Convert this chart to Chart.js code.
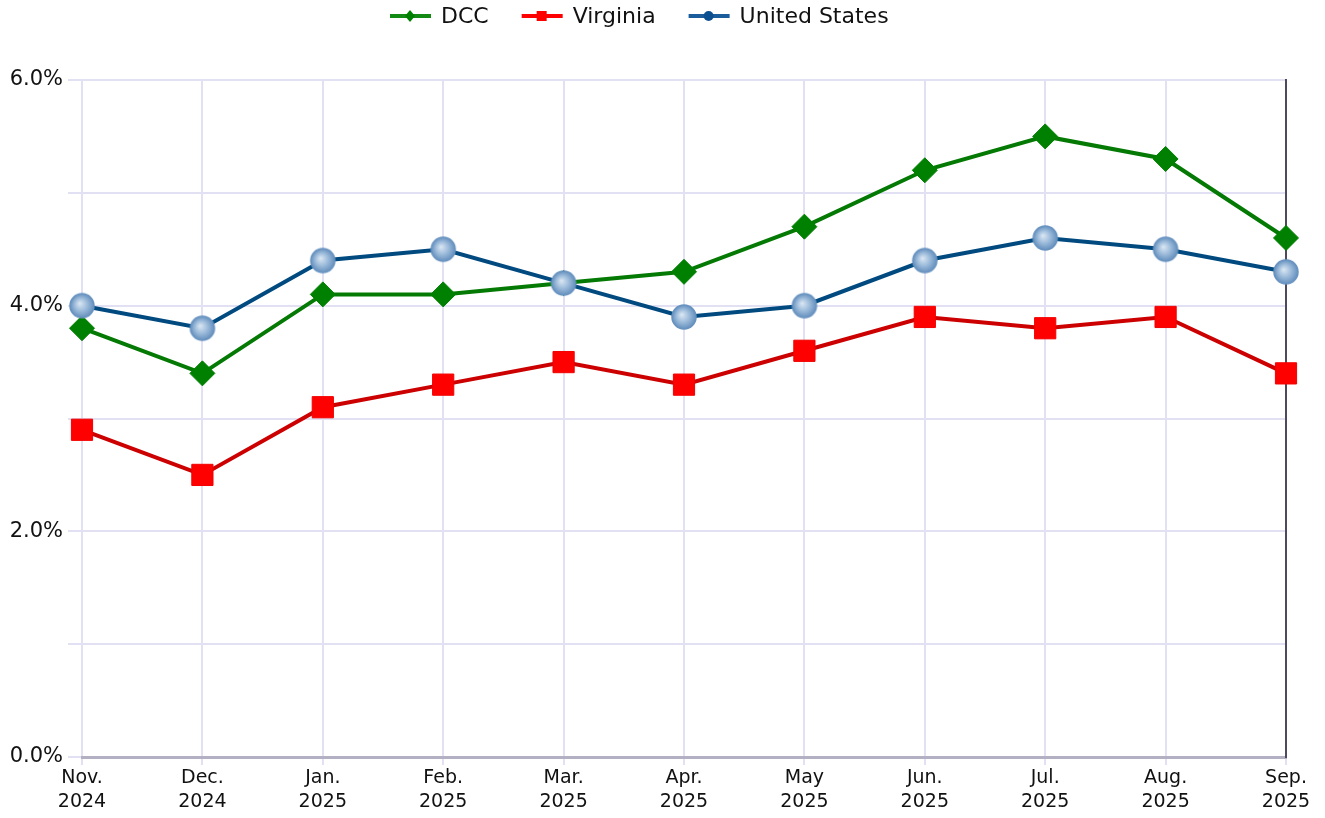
<!DOCTYPE html>
<html>
<head>
<meta charset="utf-8">
<script src="https://cdn.jsdelivr.net/npm/chart.js@4/dist/chart.umd.min.js"></script>
<style>
  html, body { margin: 0; padding: 0; background: #ffffff; }
  #wrap { width: 1325px; height: 818px; }
</style>
</head>
<body>
<div id="wrap"><canvas id="chart" width="1325" height="818"></canvas></div>
<script>
const categories = [
  ["Nov.", "2024"], ["Dec.", "2024"], ["Jan.", "2025"], ["Feb.", "2025"],
  ["Mar.", "2025"], ["Apr.", "2025"], ["May", "2025"], ["Jun.", "2025"],
  ["Jul.", "2025"], ["Aug.", "2025"], ["Sep.", "2025"]
];
const dccValues = [3.8, 3.4, 4.1, 4.1, 4.2, 4.3, 4.7, 5.2, 5.5, 5.3, 4.6];
const virginiaValues = [2.9, 2.5, 3.1, 3.3, 3.5, 3.3, 3.6, 3.9, 3.8, 3.9, 3.4];
const usValues = [4.0, 3.8, 4.4, 4.5, 4.2, 3.9, 4.0, 4.4, 4.6, 4.5, 4.3];
const yLabelTicks = [0, 2, 4, 6];

const font = "'DejaVu Sans', sans-serif";

// shaded sphere used for the United States points
function sphere(r) {
    const size = r * 2 + 4;
    const c = document.createElement("canvas");
    c.width = size;
    c.height = size;
    const ctx = c.getContext("2d");
    const cx = size / 2, cy = size / 2;
    const g = ctx.createRadialGradient(cx - r * 0.2, cy - r * 0.2, 0, cx, cy, r);
    g.addColorStop(0, "#dde8f4");
    g.addColorStop(0.5, "#a0bedc");
    g.addColorStop(1, "#6590be");
    ctx.beginPath();
    ctx.arc(cx, cy, r, 0, Math.PI * 2);
    ctx.fillStyle = g;
    ctx.fill();
    ctx.lineWidth = 1.5;
    ctx.strokeStyle = "#6893c0";
    ctx.stroke();
    return c;
}

// legend: short line with a small marker, then the dataset label
const legendStyles = [
    { line: "#138a13", marker: "#008000", shape: "diamond" },
    { line: "#ff0000", marker: "#ff0000", shape: "square" },
    { line: "#1a5c9c", marker: "#0b4f90", shape: "circle" },
];

const legendPlugin = {
    id: "topLegend",
    afterDraw(chart) {
        const ctx = chart.ctx;
        ctx.save();
        ctx.font = "22px " + font;
        ctx.textBaseline = "middle";
        const y = 16;
        let x = 390;
        chart.data.datasets.forEach((ds, i) => {
            const st = legendStyles[i];
            ctx.fillStyle = st.line;
            ctx.fillRect(x, y - 2, 41, 4);
            ctx.fillStyle = st.marker;
            const mx = x + 20;
            ctx.beginPath();
            if (st.shape === "diamond") {
                ctx.moveTo(mx, y - 6); ctx.lineTo(mx + 5, y); ctx.lineTo(mx, y + 6); ctx.lineTo(mx - 5, y);
            } else if (st.shape === "square") {
                ctx.rect(mx - 5, y - 5, 10, 10);
            } else {
                ctx.arc(mx, y, 5, 0, Math.PI * 2);
            }
            ctx.closePath();
            ctx.fill();
            ctx.fillStyle = "#111111";
            ctx.fillText(ds.label, x + 51, y + 1);
            x += 51 + ctx.measureText(ds.label).width + 33;
        });
        ctx.restore();
    },
};

const usPoint = sphere(12);

const context = document.getElementById("chart").getContext("2d");
new Chart(context, {
    type: "line",
    data: {
        labels: categories,
        datasets: [
            {
                label: "DCC",
                data: dccValues,
                borderColor: "#047a04",
                borderWidth: 4,
                pointStyle: "rectRot",
                pointRadius: 12.5,
                pointHoverRadius: 12.5,
                pointBackgroundColor: "#008000",
                pointBorderColor: "#008000",
                pointBorderWidth: 1,
                tension: 0,
                order: 2,
            },
            {
                label: "Virginia",
                data: virginiaValues,
                borderColor: "#cc0000",
                borderWidth: 4,
                pointStyle: "rect",
                pointRadius: 15,
                pointHoverRadius: 15,
                pointBackgroundColor: "#ff0000",
                pointBorderColor: "#f20000",
                pointBorderWidth: 1,
                tension: 0,
                order: 1,
            },
            {
                label: "United States",
                data: usValues,
                borderColor: "#004a80",
                borderWidth: 4,
                pointStyle: usPoint,
                pointRadius: 13,
                tension: 0,
                order: 0,
            },
        ],
    },
    options: {
        responsive: false,
        animation: false,
        layout: { padding: { top: 80 } },
        plugins: {
            tooltip: { enabled: false },
            legend: { display: false },
        },
        scales: {
            x: {
                type: "category",
                offset: false,
                grid: {
                    color: "#e2e0f3",
                    lineWidth: 2,
                    tickLength: 8,
                    offset: false,
                },
                border: { color: "#b2b0c2", width: 3 },
                ticks: {
                    font: { family: font, size: 19, lineHeight: 1.25 },
                    color: "#111111",
                    maxRotation: 0,
                    autoSkip: false,
                    padding: 1,
                },
                afterFit: (s) => { s.height = 61; },
            },
            y: {
                min: 0,
                max: 6,
                grid: {
                    color: "#e2e0f3",
                    lineWidth: 2,
                    tickLength: 14,
                },
                border: { display: false },
                ticks: {
                    stepSize: 1,
                    font: { family: font, size: 21 },
                    color: "#111111",
                    padding: 5,
                    callback: (v) => yLabelTicks.includes(v) ? v.toFixed(1) + "%" : "",
                },
                afterFit: (s) => { s.width = 82; },
            },
            yRight: {
                position: "right",
                min: 0,
                max: 6,
                grid: { display: false, drawTicks: false },
                border: { color: "#4c4a5c", width: 2 },
                ticks: { display: false },
                afterFit: (s) => { s.width = 39; },
            },
        },
    },
    plugins: [legendPlugin],
});
</script>
</body>
</html>
